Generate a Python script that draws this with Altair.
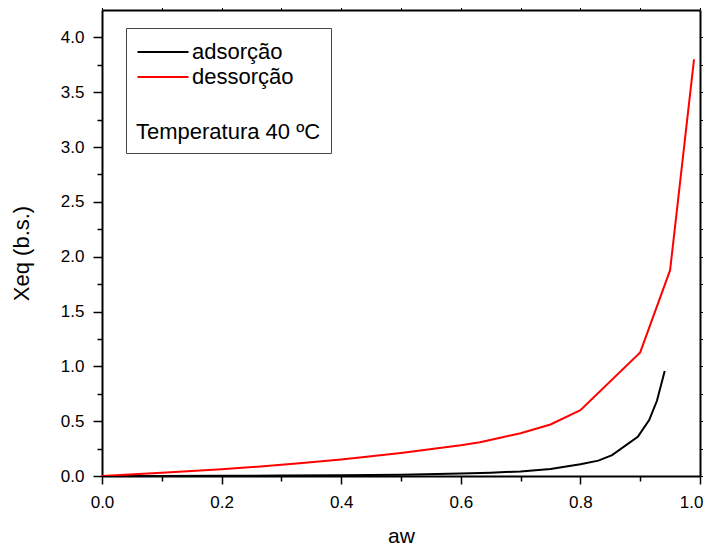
import altair as alt
import pandas as pd

# ---- data ----
series = ["adsorção", "dessorção"]
colors = ["black", "red"]

aw_ads = [0.0, 0.1, 0.2, 0.3, 0.4, 0.5, 0.6, 0.65, 0.7, 0.75, 0.8, 0.83, 0.853, 0.896, 0.915, 0.928, 0.941]
xeq_ads = [0.0, 0.001, 0.002, 0.004, 0.007, 0.012, 0.022, 0.03, 0.042, 0.064, 0.107, 0.14, 0.19, 0.358, 0.51, 0.686, 0.957]

aw_des = [0.0, 0.1, 0.2, 0.26, 0.33, 0.4, 0.5, 0.6, 0.632, 0.666, 0.7, 0.75, 0.8, 0.9, 0.95, 0.99]
xeq_des = [0.0, 0.03, 0.062, 0.085, 0.116, 0.15, 0.21, 0.28, 0.307, 0.349, 0.39, 0.47, 0.60, 1.127, 1.877, 3.80]

x_ticks = [0.0, 0.1, 0.2, 0.3, 0.4, 0.5, 0.6, 0.7, 0.8, 0.9, 1.0]
y_ticks = [0.0, 0.25, 0.5, 0.75, 1.0, 1.25, 1.5, 1.75, 2.0, 2.25, 2.5, 2.75,
           3.0, 3.25, 3.5, 3.75, 4.0]
x_domain = [0.0, 1.0]
y_domain = [0.0, 4.25]
legend_title = "Temperatura 40 ºC"

rows = []
for a, v in zip(aw_ads, xeq_ads):
    rows.append({"aw": a, "xeq": v, "serie": series[0]})
for a, v in zip(aw_des, xeq_des):
    rows.append({"aw": a, "xeq": v, "serie": series[1]})
df = pd.DataFrame(rows)

FONT = "Liberation Sans"
x_minor = "abs(datum.value*5 - round(datum.value*5)) > 0.01"
y_minor = "abs(datum.value*2 - round(datum.value*2)) > 0.01"
x_last = "datum.value > 0.99"

x_scale = alt.Scale(domain=x_domain, nice=False, zero=False)
y_scale = alt.Scale(domain=y_domain, nice=False, zero=False)

x_axis = alt.Axis(
    orient="bottom", values=x_ticks, grid=False, labelOverlap=False, labelFlush=False,
    tickSize={"condition": {"test": x_minor, "value": 5}, "value": 8},
    labelExpr=f"({x_minor}) ? '' : format(datum.value, '.1f')",
    labelAlign={"condition": {"test": x_last, "value": "right"}, "value": "center"},
    labelOffset={"condition": {"test": x_last, "value": 3}, "value": 0},
    labelPadding=10, labelFontSize=17, labelFont=FONT, labelColor="black",
    domainColor="black", domainWidth=2, tickColor="black", tickWidth=1.5,
    title="aw", titleFont=FONT, titleFontSize=21, titleFontWeight="normal",
    titleColor="black", titleY=66, titleBaseline="alphabetic",
)
y_axis = alt.Axis(
    orient="left", values=y_ticks, grid=False, labelOverlap=False, labelFlush=False,
    tickSize={"condition": {"test": y_minor, "value": 5}, "value": 9},
    labelExpr=f"({y_minor}) ? '' : format(datum.value, '.1f')",
    labelPadding=9, labelFontSize=17, labelFont=FONT, labelColor="black",
    domainColor="black", domainWidth=2, tickColor="black", tickWidth=1.5,
    title="Xeq (b.s.)", titleFont=FONT, titleFontSize=22, titleFontWeight="normal",
    titleColor="black", titleX=-74, titleY=243, titleBaseline="alphabetic",
    titleAngle=270, titleAlign="center",
)

lines = alt.Chart(df).mark_line(strokeWidth=2, clip=True).encode(
    x=alt.X("aw:Q", scale=x_scale, axis=x_axis),
    y=alt.Y("xeq:Q", scale=y_scale, axis=y_axis),
    color=alt.Color(
        "serie:N",
        scale=alt.Scale(domain=series, range=colors),
        legend=alt.Legend(
            title=legend_title, orient="none", legendX=24, legendY=18,
            titleOrient="bottom", titleFont=FONT, titleFontSize=22,
            titleFontWeight="normal", titleColor="black", titlePadding=34,
            titleLimit=400, labelLimit=400,
            labelFont=FONT, labelFontSize=22, labelColor="black", labelOffset=15,
            symbolType="M-2,0L2,0", symbolSize=650, symbolStrokeWidth=2,
            symbolOffset=13,
            rowPadding=-2, padding=10, strokeColor="#444", fillColor="white",
        ),
    ),
    detail="serie:N",
)

mirror = alt.Chart(df).mark_line(opacity=0).encode(
    x=alt.X("aw:Q", scale=x_scale, axis=alt.Axis(
        orient="top", values=x_ticks, labels=False, title=None, grid=False,
        tickSize=3, tickColor="black", domainColor="black", domainWidth=2)),
    y=alt.Y("xeq:Q", scale=y_scale, axis=alt.Axis(
        orient="right", values=y_ticks, labels=False, title=None, grid=False,
        tickSize=3, tickColor="black", domainColor="black", domainWidth=2)),
)

chart = alt.layer(lines, mirror).resolve_axis(
    x="independent", y="independent"
).properties(
    width=598, height=466,
    autosize=alt.AutoSizeParams(type="none"),
    padding={"left": 94, "top": 2, "right": 3, "bottom": 80},
).configure_view(stroke=None)

chart.save("out.html", embed_options={"renderer": "svg", "actions": False})
